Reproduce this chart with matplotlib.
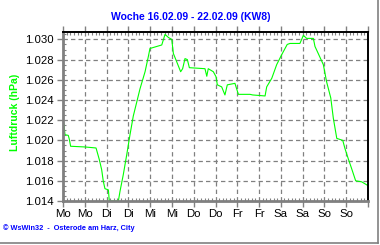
import matplotlib
matplotlib.use("Agg")
import matplotlib.pyplot as plt
from matplotlib.lines import Line2D
from matplotlib.ticker import MultipleLocator, FixedLocator

# hours since Monday 16.02.09 00:00
hours = [0.5, 1.1, 2.9, 3.5, 4.2, 12.1, 18.2, 20.0, 21.3, 22.2, 23.1, 25.0, 25.5,
         30.5, 31.4, 33.2, 35.1, 36.9, 38.7, 40.9, 42.4, 45.2, 47.0, 47.9, 54.4,
         56.2, 58.0, 59.9, 60.8, 62.6, 64.8, 65.9, 67.2, 68.5, 69.6, 78.2, 79.2,
         80.0, 82.8, 84.3, 85.0, 87.4, 89.2, 90.5, 94.7, 96.6, 103.0, 104.5,
         111.3, 112.2, 115.0, 117.7, 120.5, 123.5, 125.0, 130.5, 132.4, 134.2,
         137.9, 138.8, 140.6, 143.4, 145.2, 147.5, 148.9, 150.8, 154.1, 155.3,
         157.1, 159.0, 161.2, 164.5, 167.3, 168.0]
pressure = [1.0216, 1.02056, 1.0205, 1.0201, 1.01942, 1.01935, 1.01925, 1.0181,
            1.0171, 1.01595, 1.01522, 1.0151, 1.0140, 1.0140, 1.01496, 1.0166,
            1.01858, 1.02056, 1.0224, 1.0240, 1.0251, 1.0268, 1.0283, 1.0291,
            1.02945, 1.0305, 1.0302, 1.0300, 1.0286, 1.0278, 1.0268, 1.0271,
            1.0281, 1.0280, 1.0272, 1.0271, 1.02635, 1.0271, 1.0268, 1.0263,
            1.0255, 1.0253, 1.0245, 1.0255, 1.02565, 1.02456, 1.02456, 1.0245,
            1.0244, 1.0253, 1.02615, 1.0275, 1.0285, 1.0295, 1.0296, 1.0296,
            1.0304, 1.0301, 1.0301, 1.0293, 1.0286, 1.0275, 1.0258, 1.0242,
            1.0222, 1.0202, 1.0200, 1.0192, 1.0182, 1.0172, 1.0160, 1.0159,
            1.0156, 1.0155]

day_labels = ["Mo", "Mo", "Di", "Di", "Mi", "Mi", "Do", "Do",
              "Fr", "Fr", "Sa", "Sa", "So", "So"]
y_ticks = [1.014, 1.016, 1.018, 1.020, 1.022, 1.024, 1.026, 1.028, 1.030]

GREEN = "#00ff00"
BLUE = "#0000ff"
GRAY = "#808080"

plt.rcParams["font.family"] = ["Liberation Sans", "DejaVu Sans"]

fig = plt.figure(figsize=(3.8, 2.45), dpi=100)
fig.patch.set_facecolor("white")
ax = fig.add_axes([63 / 380, 1 - 201 / 245, 305 / 380, 169 / 245])

ax.plot(hours, pressure, color=GREEN, linewidth=0.8, clip_on=True)

ax.set_xlim(0, 168)
ax.set_ylim(1.014, 1.030733)

ax.xaxis.set_major_locator(FixedLocator(range(0, 169, 12)))
ax.xaxis.set_minor_locator(MultipleLocator(2))
ax.set_xticklabels(day_labels + [""])
ax.yaxis.set_major_locator(FixedLocator(y_ticks))
ax.yaxis.set_minor_locator(MultipleLocator(0.0005))
ax.set_yticklabels([f"{v:.3f}" for v in y_ticks])

ax.grid(True, which="major", color=GRAY, linestyle=(0, (3.5, 2.5)), linewidth=0.9)
ax.set_axisbelow(True)

for side in ("left", "bottom"):
    ax.spines[side].set_color(GRAY)
    ax.spines[side].set_linewidth(2.0)
for side in ("top", "right"):
    ax.spines[side].set_color("black")
    ax.spines[side].set_linewidth(1.4)

ax.tick_params(which="major", direction="out", length=4, width=1, color=GRAY,
               labelsize=8.2, labelcolor="black", pad=3)
ax.tick_params(which="minor", direction="in", length=2.5, width=0.8, color=GRAY)
ax.tick_params(axis="x", which="major", labelsize=8.2, pad=2)
ax.tick_params(which="both", top=True, labeltop=False)

ax.set_ylabel("Luftdruck (hPa)", color=GREEN, fontsize=7.6, fontweight="bold")
ax.yaxis.set_label_coords(-43 / 305, (201 - 112) / 169)
fig.text(191 / 380, 1 - 17 / 245, "Woche 16.02.09 - 22.02.09 (KW8)", color=BLUE,
         fontsize=7.5, fontweight="bold", ha="center", va="center")
fig.text(3 / 380, 1 - 228 / 245, "\u00a9 WsWin32  -  Osterode am Harz, City",
         color=BLUE, fontsize=5.3, fontweight="bold", ha="left", va="center")

# raised panel edge
fig.add_artist(Line2D([377.5 / 380, 377.5 / 380], [1 - 242.5 / 245, 1],
                      color=GRAY, linewidth=1.2, transform=fig.transFigure))
fig.add_artist(Line2D([0, 378 / 380], [1 - 242.5 / 245, 1 - 242.5 / 245],
                      color=GRAY, linewidth=1.2, transform=fig.transFigure))

fig.savefig("out.png", dpi=100, facecolor="white")
